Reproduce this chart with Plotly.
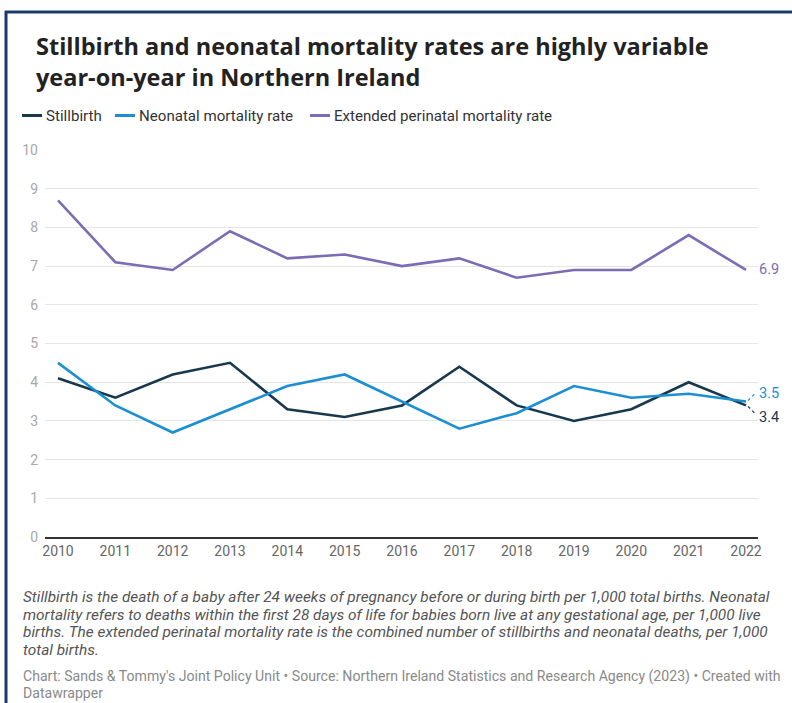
import plotly.graph_objects as go

# Rates per 1,000 births, Northern Ireland
years = list(range(2010, 2023))
stillbirth = [4.1, 3.6, 4.2, 4.5, 3.3, 3.1, 3.4, 4.4, 3.4, 3.0, 3.3, 4.0, 3.4]
neonatal = [4.5, 3.4, 2.7, 3.3, 3.9, 4.2, 3.5, 2.8, 3.2, 3.9, 3.6, 3.7, 3.5]
extended = [8.7, 7.1, 6.9, 7.9, 7.2, 7.3, 7.0, 7.2, 6.7, 6.9, 6.9, 7.8, 6.9]

series_names = ["Stillbirth", "Neonatal mortality rate", "Extended perinatal mortality rate"]
series_colors = ["#17384d", "#1b8fd2", "#7c6cb4"]
y_ticks = list(range(0, 11))

title_lines = ["Stillbirth and neonatal mortality rates are highly variable",
               "year-on-year in Northern Ireland"]
note_lines = [
    "Stillbirth is the death of a baby after 24 weeks of pregnancy before or during birth per 1,000 total births. Neonatal",
    "mortality refers to deaths within the first 28 days of life for babies born live at any gestational age, per 1,000 live",
    "births. The extended perinatal mortality rate is the combined number of stillbirths and neonatal deaths, per 1,000",
    "total births.",
]
credit_lines = [
    "Chart: Sands &amp; Tommy's Joint Policy Unit • Source: Northern Ireland Statistics and Research Agency (2023) • Created with",
    "Datawrapper",
]

W, H = 792, 703
L, R, T, B = 45, 34, 150, 166
PW, PH = W - L - R, H - T - B


def px(xp):
    return (xp - L) / PW


def py(yp):
    return (H - B - yp) / PH


fig = go.Figure()
for name, vals, col in zip(series_names, [stillbirth, neonatal, extended], series_colors):
    fig.add_trace(go.Scatter(x=years, y=vals, mode="lines", name=name,
                             line=dict(color=col, width=2.6), showlegend=False,
                             hoverinfo="x+y"))

annotations = []
shapes = []


def text_line(text, x, y, size, color, family="Roboto"):
    annotations.append(dict(text=text, xref="paper", yref="paper", x=px(x), y=py(y),
                            xanchor="left", yanchor="middle", align="left",
                            showarrow=False,
                            font=dict(family=family, size=size, color=color)))


# Title
text_line("<b>" + "<br>".join(title_lines) + "</b>", 34, 61.5, 23.5, "#222222",
          family="Open Sans")

# Legend
legend_x = [22, 115, 310]
for lx, name, col in zip(legend_x, series_names, series_colors):
    shapes.append(dict(type="line", xref="paper", yref="paper",
                       x0=px(lx), x1=px(lx + 20), y0=py(115.5), y1=py(115.5),
                       line=dict(color=col, width=3)))
    text_line(name, lx + 22, 115.5, 15.1, "#333333")

# End-of-line value labels
end_labels = [
    (extended[-1], series_colors[2], 0, None),
    (neonatal[-1], series_colors[1], -8, (1, 8)),
    (stillbirth[-1], series_colors[0], 12, (-1, -8)),
]
for val, col, dy, conn in end_labels:
    annotations.append(dict(text=f"{val:.1f}", xref="x", yref="y", x=years[-1], y=val,
                            xanchor="left", yanchor="middle", xshift=11, yshift=-dy,
                            showarrow=False,
                            font=dict(family="Roboto", size=14.5, color=col)))
    if conn:
        shapes.append(dict(type="line", xref="x", yref="y",
                           xsizemode="pixel", ysizemode="pixel",
                           xanchor=years[-1], yanchor=val,
                           x0=2, x1=9, y0=conn[0], y1=conn[1],
                           line=dict(color=col, width=1.2, dash="dot")))

# Notes and credits
for i, line in enumerate(note_lines):
    text_line(f"<i>{line}</i>", 21, 597 + 17.6 * i, 15.4, "#555555")
for i, line in enumerate(credit_lines):
    text_line(line, 21, 676 + 16.5 * i, 14.1, "#8a8a8a")

# Navy frame along top and left edges
shapes.append(dict(type="line", xref="paper", yref="paper", x0=px(5), x1=px(800),
                   y0=py(12), y1=py(12), line=dict(color="#1b3a6b", width=3)))
shapes.append(dict(type="line", xref="paper", yref="paper", x0=px(6), x1=px(6),
                   y0=py(11), y1=py(710), line=dict(color="#1b3a6b", width=3)))

fig.update_layout(
    width=W, height=H,
    margin=dict(l=L, r=R, t=T, b=B),
    paper_bgcolor="white", plot_bgcolor="white",
    showlegend=False,
    annotations=annotations, shapes=shapes,
    font=dict(family="Roboto"),
)
fig.update_xaxes(range=[2010 - 13 / 57.33, 2022 + 12 / 57.33], tickvals=years,
                 ticktext=[str(y) for y in years], showgrid=False, zeroline=False,
                 showline=True, linecolor="#333333", linewidth=2, ticks="",
                 tickfont=dict(family="Roboto", size=14, color="#666666"))
fig.update_yaxes(range=[0, 10], tickvals=y_ticks, showgrid=True, gridcolor="#e5e5e5",
                 gridwidth=1, zeroline=False, showline=False, ticks="",
                 ticklabelstandoff=6,
                 tickfont=dict(family="Roboto", size=14, color="#a8a8a8"))

fig.write_html("out.html")
